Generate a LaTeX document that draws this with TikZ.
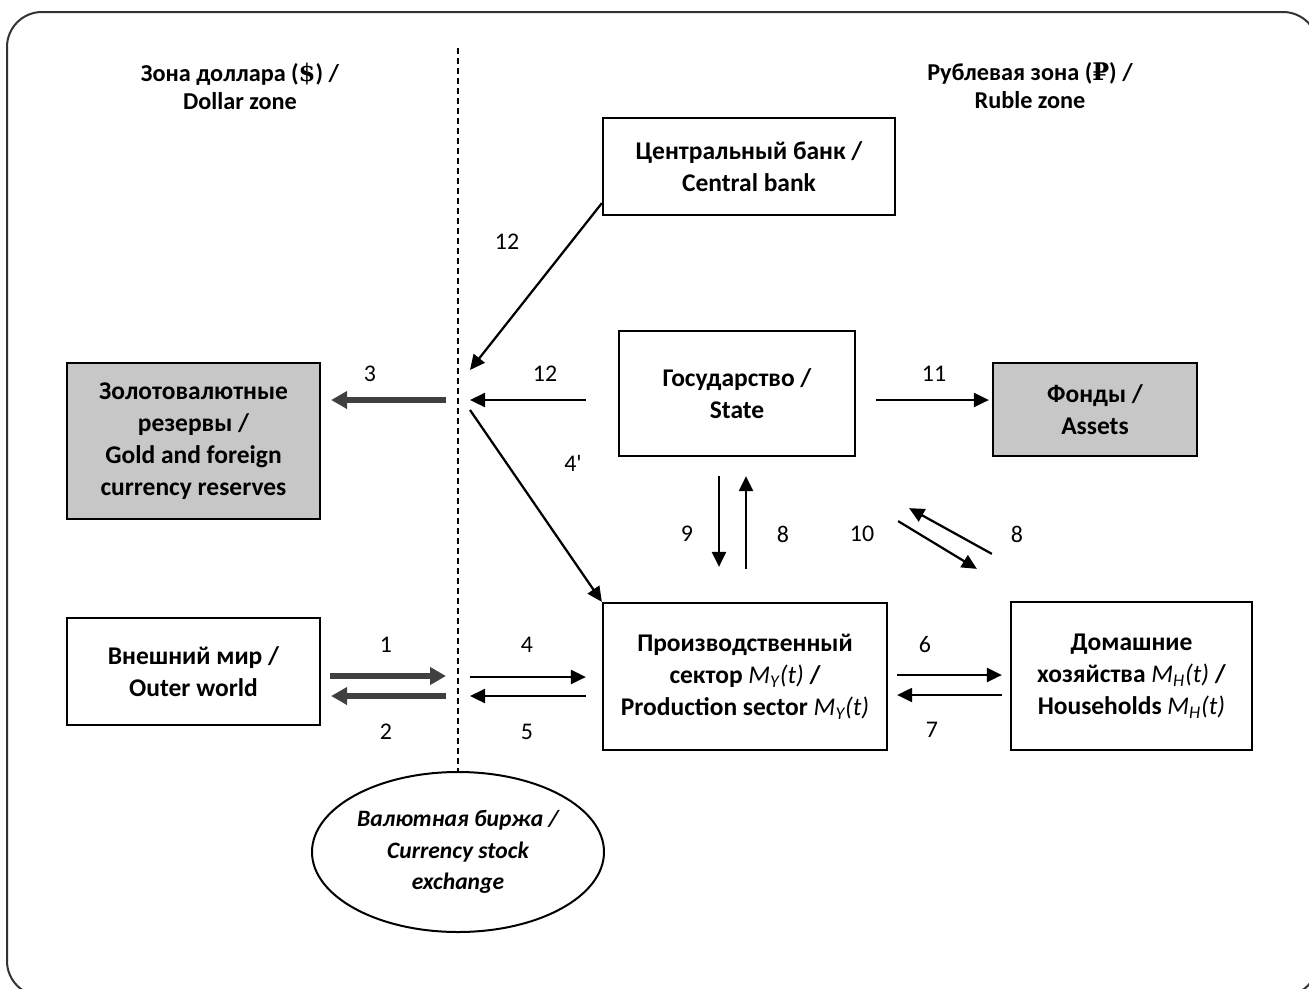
\documentclass[tikz,border=0pt]{standalone}
\usepackage{fontspec}
\setmainfont{Carlito}
\newfontfamily\signfont{DejaVu Serif}
\newfontfamily\plainfont{Carlito}
\usetikzlibrary{shapes.geometric,arrows.meta}

\begin{document}
\begin{tikzpicture}[x=0.2mm,y=-0.2mm,
  font=\fontsize{13.6}{18}\selectfont,
  box/.style={draw,line width=0.45mm,align=center,inner sep=0pt,font=\fontsize{14.5}{18.3}\selectfont\bfseries},
  res/.style={box,fill=black!22},
  zone/.style={align=center,inner sep=0pt,font=\fontsize{13.8}{16}\selectfont\bfseries},
  num/.style={inner sep=0pt},
  arr/.style={line width=0.45mm,-{Triangle[length=3mm,width=2.8mm]}},
  fat/.style={line width=1.2mm,draw=black!75,-{Triangle[length=3.2mm,width=3.4mm]}}]
\useasboundingbox (0,0) rectangle (1309,988);
\clip (0,0) rectangle (1309,988);
\draw[draw=black!80,line width=0.4mm,rounded corners=7mm] (7,12) rectangle (1318,996);
%
\node[zone] (dollar) at (240,86) {Зона доллара ({\signfont\$}) /\\Dollar zone};
\node[zone] (ruble) at (1030,86) {Рублевая зона ({\signfont ₽}) /\\Ruble zone};
%
\node[box,minimum width=58.4mm,minimum height=19.4mm] (cb) at (749,166.5) {Центральный банк /\\Central bank};
\node[box,minimum width=47.2mm,minimum height=25mm] (state) at (737,393.5) {Государство /\\State};
\node[res,minimum width=50.6mm,minimum height=31.2mm] (gold) at (193.5,441) {Золотовалютные\\резервы /\\Gold and foreign\\currency reserves};
\node[res,minimum width=40.8mm,minimum height=18.6mm] (assets) at (1095,409.5) {Фонды /\\Assets};
\node[box,minimum width=50.6mm,minimum height=21.4mm] (outer) at (193.5,671.5) {Внешний мир /\\Outer world};
\node[box,minimum width=56.8mm,minimum height=29.4mm] (prod) at (745,676.5) {Производственный\\сектор {\normalfont\itshape M\textsubscript{Y}(t)} /\\Production sector {\normalfont\itshape M\textsubscript{Y}(t)}};
\node[box,minimum width=48.2mm,minimum height=29.6mm] (hh) at (1131.5,676) {Домашние\\хозяйства {\normalfont\itshape M\textsubscript{H}(t)} /\\Households {\normalfont\itshape M\textsubscript{H}(t)}};
\node[ellipse,draw,line width=0.4mm,minimum width=58.4mm,minimum height=32mm,inner sep=0pt,align=center,
  font=\fontsize{13.4}{18}\selectfont\bfseries\itshape] (exch) at (458,852) {Валютная биржа /\\Currency stock\\exchange};
%
\coordinate (top) at (458,48);
\draw[line width=0.4mm,dash pattern=on 1.2mm off 0.8mm] (top) -- (exch.north);
%
\coordinate (in12) at (470,370);
\coordinate (to12) at (470,400);
\coordinate (from3) at (446,400);
\coordinate (from4p) at (470,410);
\coordinate (to1) at (446,676);
\coordinate (from2) at (446,696);
\coordinate (from4) at (470,677);
\coordinate (to5) at (470,696);
\coordinate (y6) at (950,675);
\coordinate (y7) at (950,695);
\coordinate (x9) at (719,520);
\coordinate (x8) at (746,520);
%
\draw[arr] ([yshift=2.6mm]cb.south west) -- (in12);
\draw[arr,shorten <=6.4mm] (state.west |- to12) -- (to12);
\draw[fat,shorten >=2mm] (from3) -- (gold.east |- from3);
\draw[arr] (from4p) -- (prod.north west);
\draw[arr,shorten <=4mm,shorten >=0.6mm] (state.east |- to12) -- (assets.west |- to12);
\draw[arr,shorten <=3.8mm,shorten >=7mm] (state.south -| x9) -- (prod.north -| x9);
\draw[arr,shorten <=6.6mm,shorten >=3.8mm] (prod.north -| x8) -- (state.south -| x8);
\draw[arr] ([shift={(8.4mm,-12.8mm)}]state.south east) -- ([shift={(-6.6mm,6.4mm)}]hh.north west);
\draw[arr] ([shift={(-3.6mm,9.4mm)}]hh.north west) -- ([shift={(10.6mm,-10.2mm)}]state.south east);
\draw[fat,shorten <=1.8mm] (outer.east |- to1) -- (to1);
\draw[fat,shorten >=2mm] (from2) -- (outer.east |- from2);
\draw[arr,shorten >=3.2mm] (from4) -- (prod.west |- from4);
\draw[arr,shorten <=3.2mm] (prod.west |- to5) -- (to5);
\draw[arr,shorten <=1.8mm,shorten >=1.6mm] (prod.east |- y6) -- (hh.west |- y6);
\draw[arr,shorten <=1.6mm,shorten >=1.8mm] (hh.west |- y7) -- (prod.east |- y7);
%
\node[num] (n12a) at (507,242) {12};
\node[num] (n12b) at (545,374) {12};
\node[num] (n3) at (370,374) {3};
\node[num] (n11) at (934,374) {11};
\node[num] (n4p) at (573,463) {\plainfont 4'};
\node[num] (n9) at (687,534) {9};
\node[num] (n8a) at (783,534) {8};
\node[num] (n10) at (862,534) {10};
\node[num] (n8b) at (1017,534) {8};
\node[num] (n1) at (386,645) {1};
\node[num] (n2) at (386,732) {2};
\node[num] (n4) at (527,645) {4};
\node[num] (n5) at (527,732) {5};
\node[num] (n6) at (925,645) {6};
\node[num] (n7) at (932,730) {7};
\end{tikzpicture}
\end{document}
